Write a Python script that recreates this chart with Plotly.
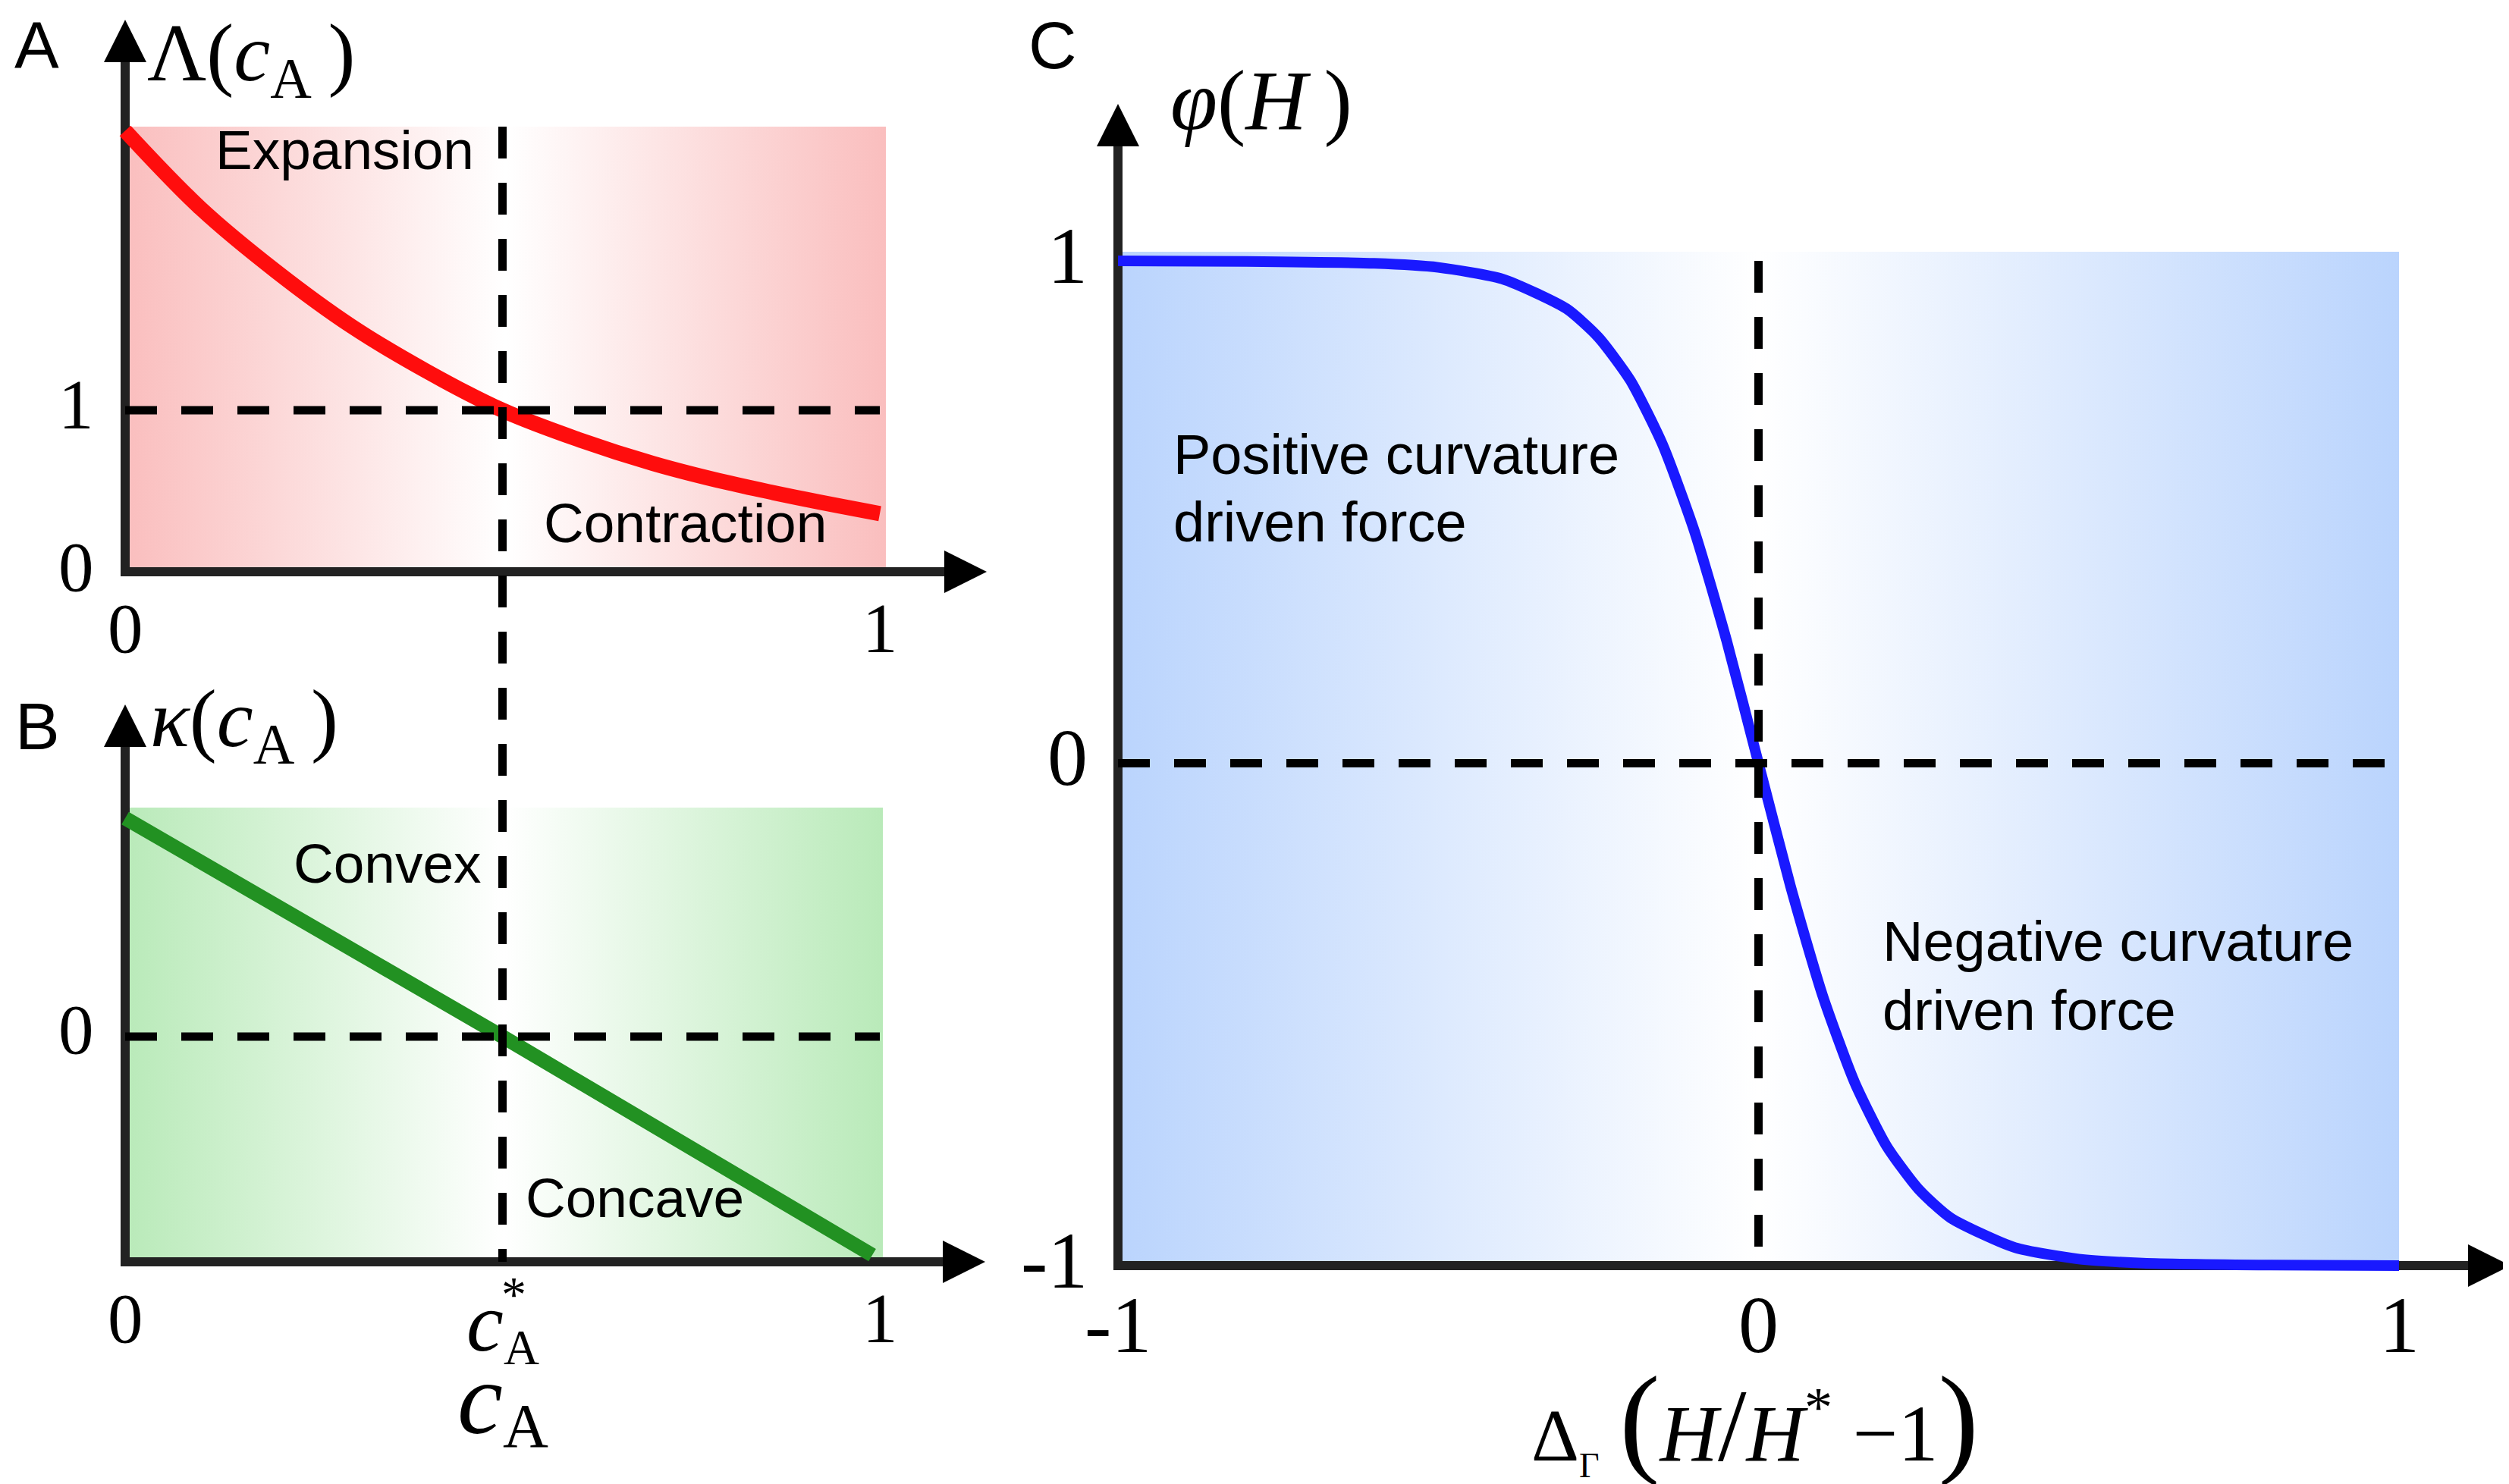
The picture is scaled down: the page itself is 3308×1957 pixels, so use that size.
import plotly.graph_objects as go

W, H = 3308, 1957

# ---------------- data ----------------
cA_lambda = [0.0, 0.1, 0.2, 0.3, 0.4, 0.5, 0.6, 0.7, 0.8, 0.9, 1.0]
lambda_vals = [2.73, 2.25, 1.86, 1.52, 1.24, 1.00, 0.82, 0.67, 0.55, 0.45, 0.36]

cA_kappa = [0.0, 0.5, 0.99]
kappa_vals = [0.97, 0.0, -0.97]

c_star = 0.5
lambda_ref = 1.0
kappa_ref = 0.0

delta_H = [-1.0, -0.8, -0.6, -0.5, -0.4, -0.3, -0.25, -0.2, -0.15, -0.1, -0.05, 0.0,
           0.05, 0.1, 0.15, 0.2, 0.25, 0.3, 0.4, 0.5, 0.6, 0.8, 1.0]
phi_vals = [1.0, 0.999, 0.995, 0.987, 0.964, 0.905, 0.848, 0.762, 0.635, 0.462, 0.245, 0.0,
            -0.245, -0.462, -0.635, -0.762, -0.848, -0.905, -0.964, -0.987, -0.995, -0.999, -1.0]
delta_ref = 0.0
phi_ref = 0.0

A_xticks = [0, 1]
A_xticklabels = ["0", "1"]
A_yticks = [0, 1]
A_yticklabels = ["0", "1"]
B_xticks = [0, 1]
B_xticklabels = ["0", "1"]
B_yticks = [0]
B_yticklabels = ["0"]
C_xticks = [-1, 0, 1]
C_xticklabels = ["-1", "0", "1"]
C_yticks = [-1, 0, 1]
C_yticklabels = ["-1", "0", "1"]

A_regions = ["Expansion", "Contraction"]
B_regions = ["Convex", "Concave"]
C_regions = [["Positive curvature", "driven force"], ["Negative curvature", "driven force"]]

# ---------------- layout helpers (pixel geometry) ----------------
def mapper(p0, v0, p1, v1):
    k = (v1 - v0) / (p1 - p0)
    return (lambda p: v0 + (p - p0) * k), (lambda v: p0 + (v - v0) / k)

Ax_v, Ax_p = mapper(157, 0, 1152, 1)
Ay_v, Ay_p = mapper(746, 0, 533, 1)
Bx_v, Bx_p = Ax_v, Ax_p
By_v, By_p = mapper(1359, 0, 1656, -1)
Cx_v, Cx_p = mapper(1466, -1, 3155, 1)
Cy_v, Cy_p = mapper(336, 1, 1661, -1)

def xdom(l, r):
    return [l / W, r / W]

def ydom(t, b):
    return [1 - b / H, 1 - t / H]

def px(x):
    return x / W

def py(y):
    return 1 - y / H

A_xd, A_yd = (100, 1308), (8, 800)
B_xd, B_yd = (100, 1308), (900, 1700)
C_xd, C_yd = (1420, 3308), (100, 1720)

SERIF = "Liberation Serif"
SANS = "Liberation Sans"
AXC = "#222222"
ARROW = 56
AXW = 12

fig = go.Figure()

def shade(xa, ya, x0, x1, y0, y1, edge):
    fig.add_trace(go.Scatter(
        x=[x0, x1, x1, x0, x0], y=[y0, y0, y1, y1, y0], xaxis=xa, yaxis=ya,
        mode="lines", line=dict(width=0), fill="toself",
        fillgradient=dict(type="horizontal",
                          colorscale=[[0, edge], [0.5, "rgb(255,255,255)"], [1, edge]]),
        hoverinfo="skip", showlegend=False))

def axes_lines(xa, ya, x0, y0, xline_end, yline_end):
    fig.add_trace(go.Scatter(
        x=[x0, x0, xline_end], y=[yline_end, y0, y0], xaxis=xa, yaxis=ya,
        mode="lines", line=dict(color=AXC, width=AXW), hoverinfo="skip", showlegend=False))

def arrows(xa, ya, x0, y0, xtip, ytip):
    fig.add_trace(go.Scatter(
        x=[x0, xtip], y=[ytip, y0], xaxis=xa, yaxis=ya, mode="markers",
        marker=dict(symbol=["arrow-up", "arrow-right"], size=ARROW, color="black",
                    line=dict(width=0)),
        cliponaxis=False, hoverinfo="skip", showlegend=False))

def dashed(xa, ya, xs, ys):
    fig.add_trace(go.Scatter(
        x=xs, y=ys, xaxis=xa, yaxis=ya, mode="lines",
        line=dict(color="black", width=11, dash="42px,32px"),
        hoverinfo="skip", showlegend=False))

# ---- Panel A ----
shade("x", "y", 0, Ax_v(1160), 0, Ay_v(159), "rgb(250,190,190)")
axes_lines("x", "y", 0, 0, Ax_v(1293 - 45), Ay_v(18 + 45))
fig.add_trace(go.Scatter(x=cA_lambda, y=lambda_vals, xaxis="x", yaxis="y", mode="lines",
                         line=dict(color="#FF0D0D", width=20, shape="spline", smoothing=1.0),
                         hoverinfo="skip", showlegend=False))
dashed("x", "y", [0, 1], [lambda_ref, lambda_ref])
arrows("x", "y", 0, 0, Ax_v(1293), Ay_v(18))

# ---- Panel B ----
shade("x2", "y2", 0, Bx_v(1156), -1, By_v(1057), "rgb(185,234,185)")
axes_lines("x2", "y2", 0, -1, Bx_v(1291 - 45), By_v(921 + 45))
fig.add_trace(go.Scatter(x=cA_kappa, y=kappa_vals, xaxis="x2", yaxis="y2", mode="lines",
                         line=dict(color="rgb(34,145,34)", width=19),
                         hoverinfo="skip", showlegend=False))
dashed("x2", "y2", [0, 1], [kappa_ref, kappa_ref])
arrows("x2", "y2", 0, -1, Bx_v(1291), By_v(921))

# ---- Panel C ----
shade("x3", "y3", -1, 1, -1, Cy_v(324), "rgb(186,212,253)")
axes_lines("x3", "y3", -1, -1, Cx_v(3302 - 45), Cy_v(129 + 45))
fig.add_trace(go.Scatter(x=delta_H, y=phi_vals, xaxis="x3", yaxis="y3", mode="lines",
                         line=dict(color="rgb(25,25,255)", width=14, shape="spline", smoothing=0.6),
                         hoverinfo="skip", showlegend=False))
dashed("x3", "y3", [-1, 1], [phi_ref, phi_ref])
dashed("x3", "y3", [delta_ref, delta_ref], [1, -1])
arrows("x3", "y3", -1, -1, Cx_v(3302), Cy_v(129))

# ---- vertical c* line spanning panels A and B (overlay axes in pixel units) ----
dashed("x4", "y4", [c_star, c_star], [Ay_p(Ay_v(159)), By_p(-1)])

base = dict(visible=False, showgrid=False, zeroline=False, fixedrange=True)
fig.update_layout(
    width=W, height=H, margin=dict(l=0, r=0, t=0, b=0),
    paper_bgcolor="white", plot_bgcolor="rgba(0,0,0,0)", showlegend=False,
    xaxis=dict(domain=xdom(*A_xd), range=[Ax_v(A_xd[0]), Ax_v(A_xd[1])], anchor="y", **base),
    yaxis=dict(domain=ydom(*A_yd), range=[Ay_v(A_yd[1]), Ay_v(A_yd[0])], anchor="x", **base),
    xaxis2=dict(domain=xdom(*B_xd), range=[Bx_v(B_xd[0]), Bx_v(B_xd[1])], anchor="y2", **base),
    yaxis2=dict(domain=ydom(*B_yd), range=[By_v(B_yd[1]), By_v(B_yd[0])], anchor="x2", **base),
    xaxis3=dict(domain=xdom(*C_xd), range=[Cx_v(C_xd[0]), Cx_v(C_xd[1])], anchor="y3", **base),
    yaxis3=dict(domain=ydom(*C_yd), range=[Cy_v(C_yd[1]), Cy_v(C_yd[0])], anchor="x3", **base),
    xaxis4=dict(domain=xdom(*A_xd), range=[Ax_v(A_xd[0]), Ax_v(A_xd[1])], anchor="y4", **base),
    yaxis4=dict(domain=[0, 1], range=[H, 0], anchor="x4", **base),
)

ann = []

def txt(x, y, t, size, family, xanchor="center", yanchor="middle", align="center"):
    ann.append(dict(x=px(x), y=py(y), xref="paper", yref="paper", text=t, showarrow=False,
                    font=dict(family=family, size=size, color="black"),
                    xanchor=xanchor, yanchor=yanchor, align=align))

# tick labels placed through each panel's scale
def tick_x(xp, yp, vals, labels, yv, gap, size):
    for v, t in zip(vals, labels):
        txt(xp(v), yp(yv) + gap, t, size, SERIF)

def tick_y(xp, yp, vals, labels, xv, right_gap, dy, size):
    for v, t in zip(vals, labels):
        txt(xp(xv) - right_gap, yp(v) + dy, t, size, SERIF, "right")

tick_x(Ax_p, Ay_p, A_xticks, A_xticklabels, 0, 74, 93)
tick_y(Ax_p, Ay_p, A_yticks, A_yticklabels, 0, 39, -7, 93)
tick_x(Bx_p, By_p, B_xticks, B_xticklabels, -1, 74, 93)
tick_y(Bx_p, By_p, B_yticks, B_yticklabels, 0, 39, -10, 93)
tick_x(Cx_p, Cy_p, C_xticks, C_xticklabels, -1, 78, 106)
tick_y(Cx_p, Cy_p, C_yticks, C_yticklabels, -1, 38, -7, 106)

# c*_A tick and c_A axis title of panel B (two lines, one text block)
txt(Bx_p(c_star), By_p(-1) + 17,
    "<span style='font-size:110px'><i>c</i></span><sub><span style='font-size:65px'>A</span></sub>"
    "<br><span style='font-size:135px'><i>c</i></span><sub><span style='font-size:83px'>A</span></sub>",
    84, SERIF, "center", "top")
txt(Bx_p(c_star) + 15, By_p(-1) + 4, "*", 66, SERIF, "center", "top")

# panel letters
txt(40, 0, "A", 88, SANS, "center", "top")
txt(41, 949, "B", 88, SANS)
txt(1380, 0, "C", 88, SANS, "center", "top")

# axis labels
txt(184, 0, "Λ(<i>c</i><sub>A</sub>\u2009)", 108, SERIF, "left", "top")
txt(188, 878, "<i>κ</i>(<i>c</i><sub>A</sub>\u2009)", 108, SERIF, "left", "top")
txt(1533, 60, "<i>φ</i>(<i>H</i>\u2009)", 112, SERIF, "left", "top")
txt(2306, 1773,
    "<span style='font-size:98px'>Δ</span><sub><span style='font-size:46px'>Γ</span></sub> "
    "<span style='font-size:160px'>(</span><i>H</i><span style='font-size:135px'>/</span>"
    "<i>H</i><sup>*</sup> −1<span style='font-size:160px'>)</span>",
    106, SERIF, "center", "top")

# region labels
txt(446, 190, A_regions[0], 73, SANS)
txt(895, 681, A_regions[1], 73, SANS)
txt(503, 1130, B_regions[0], 73, SANS)
txt(829, 1571, B_regions[1], 73, SANS)
txt(1537, 591, C_regions[0][0], 74, SANS, "left")
txt(1537, 680, C_regions[0][1], 74, SANS, "left")
txt(2472, 1233, C_regions[1][0], 74, SANS, "left")
txt(2472, 1324, C_regions[1][1], 74, SANS, "left")

fig.update_layout(annotations=ann)
fig.write_html("out.html")
